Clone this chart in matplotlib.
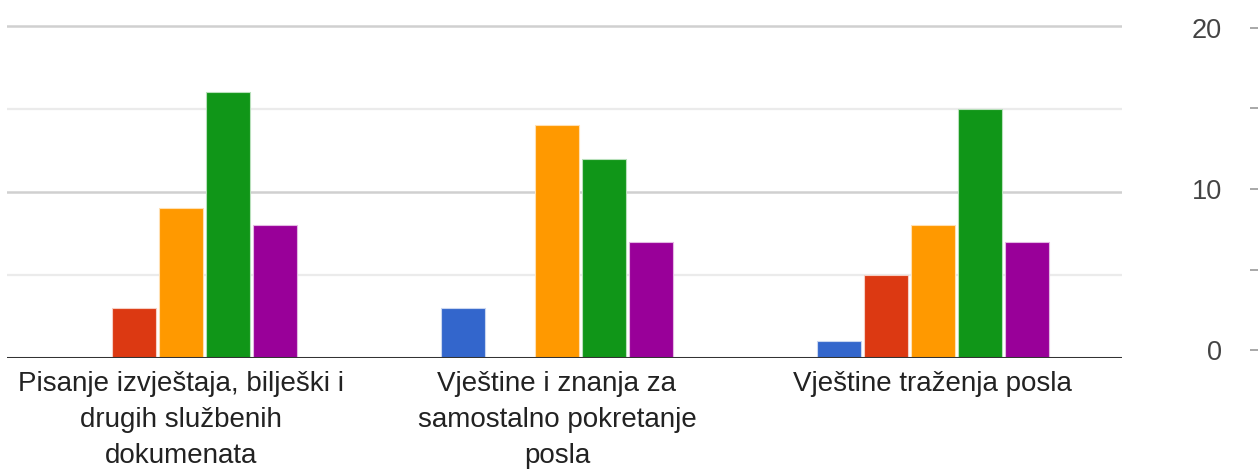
import matplotlib.pyplot as plt
import numpy as np

plt.rcParams['font.family'] = ['Liberation Sans', 'DejaVu Sans']

# Data
categories = ['Pisanje izvještaja, bilješki i\ndrugih službenih\ndokumenata',
              'Vještine i znanja za\nsamostalno pokretanje\nposla',
              'Vještine traženja posla']
series = [
    [0, 3, 1],     # blue
    [3, 0, 5],     # red
    [9, 14, 8],    # orange
    [16, 12, 15],  # green
    [8, 7, 7],     # purple
]
colors = ['#3366cc', '#dc3912', '#ff9900', '#109618', '#990099']
edges = ['#c9d6f0', '#f6cfc4', '#ffe0b3', '#b8e0bb', '#e3b8e3']

W, H = 1258, 469
fig = plt.figure(figsize=(W / 100, H / 100), dpi=100)

# main plot area
ax = fig.add_axes([7 / W, (H - 358) / H, (1122 - 7) / W, 20.3 * 16.625 / H])
x = np.arange(len(categories))
step = 0.125
width = 0.117
for i, (vals, c, e) in enumerate(zip(series, colors, edges)):
    ax.bar(x + (i - 2) * step, vals, width, color=c, edgecolor=e,
           linewidth=0.8, zorder=3)

ax.set_xlim(-0.463, 2.503)
ax.set_ylim(0, 20.3)
for v in [5, 15]:
    ax.axhline(v, color='#ebebeb', lw=1.6, zorder=1)
for v in [10, 20]:
    ax.axhline(v, color='#d0d0d0', lw=1.8, zorder=1)
ax.axhline(0, color='#333333', lw=2.2, zorder=4)

for s in ax.spines.values():
    s.set_visible(False)
ax.set_yticks([])
ax.set_xticks(x)
ax.set_xticklabels(categories, fontsize=20, color='#222222',
                   multialignment='center', linespacing=1.5)
ax.tick_params(axis='x', length=0, pad=9)

# right-hand scale
ax2 = fig.add_axes([1250 / W, (H - 350) / H, 8 / W, 322 / H])
ax2.set_ylim(0, 20)
ax2.set_xticks([])
ax2.set_yticks([0, 5, 10, 15, 20])
ax2.set_yticklabels(['0', '', '10', '', '20'], fontsize=19.5, color='#444444')
ax2.tick_params(axis='y', direction='in', length=6, width=1.2,
                color='#999999', pad=20)
for s in ax2.spines.values():
    s.set_visible(False)
ax2.patch.set_alpha(0)

fig.savefig('out.png', dpi=100)
